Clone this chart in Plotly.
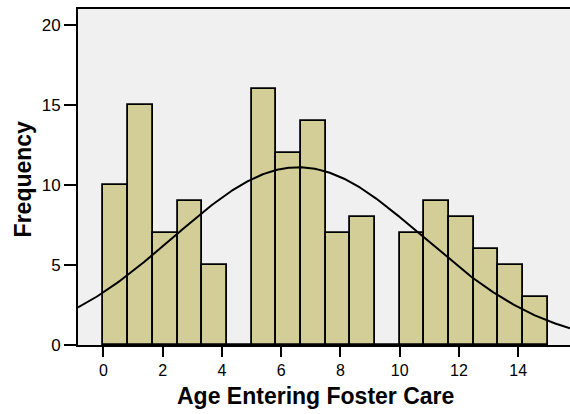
import numpy as np
import plotly.graph_objects as go

# ---- data ----
bin_start = 0.0
bin_width = 15.0 / 18
counts = [10, 15, 7, 9, 5, 0, 16, 12, 14, 7, 8, 0, 7, 9, 8, 6, 5, 3]
fit_mean = 6.58
fit_sd = 4.22
x_tick_vals = [0, 2, 4, 6, 8, 10, 12, 14]
y_tick_vals = [0, 5, 10, 15, 20]
x_title = "Age Entering Foster Care"
y_title = "Frequency"

centers = [bin_start + (i + 0.5) * bin_width for i in range(len(counts))]
n_total = sum(counts)

x_range = [-0.86, 15.75]
y_range = [0, 21]

xc = np.linspace(x_range[0], x_range[1], 300)
yc = n_total * bin_width * np.exp(-0.5 * ((xc - fit_mean) / fit_sd) ** 2) / (fit_sd * np.sqrt(2 * np.pi))

fig = go.Figure()
fig.add_trace(go.Bar(
    x=centers, y=counts, width=bin_width,
    marker=dict(color="#D3CE98", line=dict(color="black", width=1.8)),
    showlegend=False, hoverinfo="x+y",
))
fig.add_trace(go.Scatter(
    x=xc, y=yc, mode="lines", line=dict(color="black", width=2),
    showlegend=False, hoverinfo="skip",
))

font_family = "Liberation Sans, Arial, sans-serif"
fig.update_layout(
    width=570, height=414,
    margin=dict(l=78, r=0, t=9, b=69),
    paper_bgcolor="white",
    plot_bgcolor="#F0F0F0",
    bargap=0,
    font=dict(family=font_family, size=16, color="black"),
    xaxis=dict(
        range=x_range, tickvals=x_tick_vals, ticks="outside", ticklen=10, tickwidth=2,
        tickcolor="black", showline=True, linecolor="black", linewidth=2, mirror=True,
        showgrid=False, zeroline=False, tickfont=dict(size=16),
    ),
    yaxis=dict(
        range=y_range, tickvals=y_tick_vals, ticks="outside", ticklen=12, tickwidth=2,
        tickcolor="black", showline=True, linecolor="black", linewidth=2, mirror=False,
        showgrid=False, zeroline=False, tickfont=dict(size=17),
    ),
    annotations=[
        dict(text="<b>%s</b>" % x_title, xref="paper", yref="paper", x=0.482, y=-0.152,
             showarrow=False, font=dict(size=23, family=font_family), xanchor="center", yanchor="middle"),
        dict(text="<b>%s</b>" % y_title, xref="paper", yref="paper", x=-0.112, y=0.4955,
             showarrow=False, font=dict(size=23, family=font_family), textangle=-90,
             xanchor="center", yanchor="middle"),
    ],
)

fig.write_html("out.html", config={"displayModeBar": False},
               post_script="document.body.style.margin='0';document.body.style.overflow='hidden';")
